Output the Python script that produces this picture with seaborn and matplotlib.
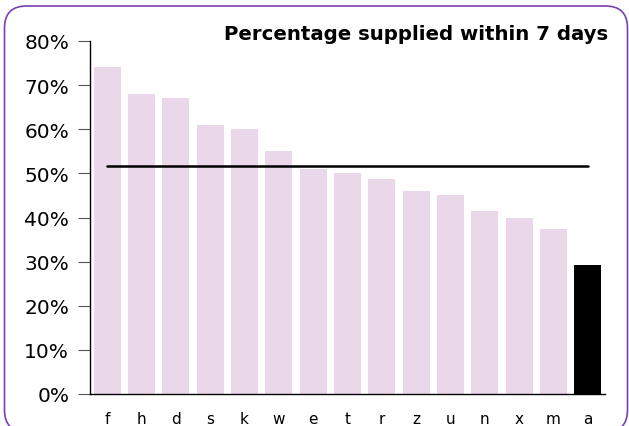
import matplotlib
matplotlib.use("Agg")
import matplotlib.pyplot as plt
from matplotlib.patches import FancyBboxPatch
import seaborn as sns
import pandas as pd

categories = ["f", "h", "d", "s", "k", "w", "e", "t", "r", "z", "u", "n", "x", "m", "a"]
values = [74.0, 68.0, 67.0, 61.0, 60.0, 55.0, 51.0, 50.0, 48.8, 46.0, 45.0, 41.4, 40.0, 37.3, 29.2]
average = 51.6
title = "Percentage supplied within 7 days"

sns.set_theme(style="white")
plt.rcParams['font.family'] = ['DejaVu Sans']
plt.rcParams['text.color'] = 'black'
plt.rcParams['xtick.color'] = 'black'
plt.rcParams['ytick.color'] = 'black'

df = pd.DataFrame({"cat": categories, "val": values})
colors = ["#EAD8EA"] * (len(categories) - 1) + ["#000000"]

fig = plt.figure(figsize=(6.29, 4.27), dpi=100)

# background frame axes in pixel units (y up)
bg = fig.add_axes([0, 0, 1, 1])
bg.set_xlim(0, 629)
bg.set_ylim(0, 427)
bg.axis("off")
bg.add_patch(FancyBboxPatch((4.5, -6), 623, 426,
                            boxstyle="round,pad=0,rounding_size=22",
                            fill=False, edgecolor="#7A3FAE", lw=1.2))

ax = fig.add_axes([90/629, 1-395/427, (605-90)/629, (395-42)/427])

sns.barplot(data=df, x="cat", y="val", hue="cat", palette=colors, legend=False,
            width=0.79, ax=ax, saturation=1, edgecolor="none")
ax.plot([0, len(categories) - 1], [average, average], color="black", lw=1.8)

ax.set_xlim(-0.5, len(categories) - 0.5)
ax.set_ylim(0, 80)
ax.set_yticks(range(0, 81, 10))
ax.set_yticklabels([f"{v}%" for v in range(0, 81, 10)], fontsize=14.5)
ax.tick_params(axis="y", left=True, length=9, width=0.8, color="#555555",
               labelcolor="black", pad=6)
ax.tick_params(axis="x", bottom=False, labelsize=11, labelcolor="black", pad=6)
ax.set_xlabel("")
ax.set_ylabel("")
ax.patch.set_alpha(0)
for s in ["top", "right"]:
    ax.spines[s].set_visible(False)
for s in ["left", "bottom"]:
    ax.spines[s].set_color("black")
    ax.spines[s].set_linewidth(1.0)

fig.text(608/629, 1-34/427, title, ha="right", va="center", fontsize=14.2,
         fontweight="bold", color="black")

fig.savefig("out.png", dpi=100)
